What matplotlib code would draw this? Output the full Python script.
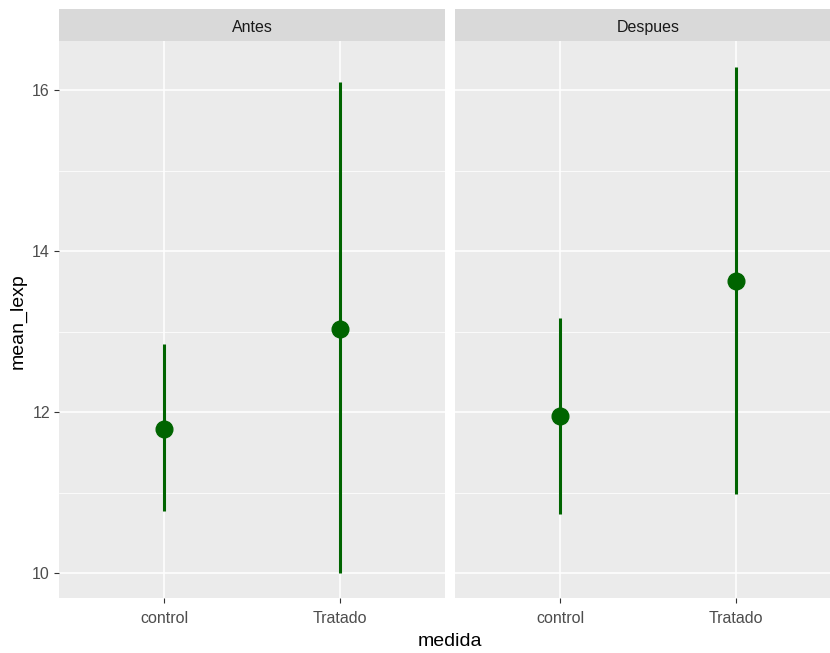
import matplotlib
matplotlib.use("Agg")
import matplotlib.pyplot as plt
from matplotlib.patches import Rectangle

plt.rcParams["font.family"] = ["Liberation Sans", "DejaVu Sans"]

# data
periods = ["Antes", "Despues"]
groups = ["control", "Tratado"]
means = {"Antes": [11.79, 13.03], "Despues": [11.95, 13.63]}
lower = {"Antes": [10.77, 10.00], "Despues": [10.73, 10.98]}
upper = {"Antes": [12.85, 16.10], "Despues": [13.17, 16.29]}
y_ticks = [10, 12, 14, 16]
y_minor = [11, 13, 15]

W, H = 830, 653
fig = plt.figure(figsize=(W / 100, H / 100), dpi=100)

PANEL_BG = "#EBEBEB"
STRIP_BG = "#D9D9D9"
GREEN = "#006400"

panel_left = [59, 455]
panel_w = 386
panel_top, panel_bot = 41, 598
strip_top = 9

for i, period in enumerate(periods):
    ax = fig.add_axes([panel_left[i] / W, (H - panel_bot) / H,
                       panel_w / W, (panel_bot - panel_top) / H])
    ax.set_facecolor(PANEL_BG)
    for s in ax.spines.values():
        s.set_visible(False)
    xs = list(range(1, len(groups) + 1))
    ax.set_xlim(0.4, 2.6)
    ax.set_ylim(9.69, 16.61)

    for y in y_minor:
        ax.axhline(y, color="white", lw=0.55, zorder=0)
    for y in y_ticks:
        ax.axhline(y, color="white", lw=1.1, zorder=0)
    for x in xs:
        ax.axvline(x, color="white", lw=1.1, zorder=0)

    ax.vlines(xs, lower[period], upper[period], color=GREEN, lw=2.2, zorder=2)
    ax.plot(xs, means[period], "o", color=GREEN, ms=12, zorder=3)

    ax.set_xticks(xs)
    ax.set_xticklabels(groups)
    ax.set_yticks(y_ticks)
    ax.tick_params(axis="both", colors="#333333", length=3.5, width=0.8,
                   labelsize=11.5, labelcolor="#4D4D4D", pad=3)
    ax.tick_params(axis="x", pad=6)
    if i > 0:
        ax.tick_params(axis="y", left=False, labelleft=False)

    # facet strip
    sax = fig.add_axes([panel_left[i] / W, (H - panel_top) / H,
                        panel_w / W, (panel_top - strip_top) / H])
    sax.set_xlim(0, 1)
    sax.set_ylim(0, 1)
    sax.axis("off")
    sax.add_patch(Rectangle((0, 0), 1, 1, facecolor=STRIP_BG, edgecolor="none"))
    sax.text(0.5, 0.42, period, ha="center", va="center",
             fontsize=11.5, color="#1A1A1A")

fig.text(18 / W, 1 - 321 / H, "mean_lexp", rotation=90, ha="center",
         va="center", fontsize=14, color="black")
fig.text(450 / W, 1 - 642 / H, "medida", ha="center", va="center",
         fontsize=14, color="black")

fig.savefig("out.png", dpi=100, facecolor="white")
